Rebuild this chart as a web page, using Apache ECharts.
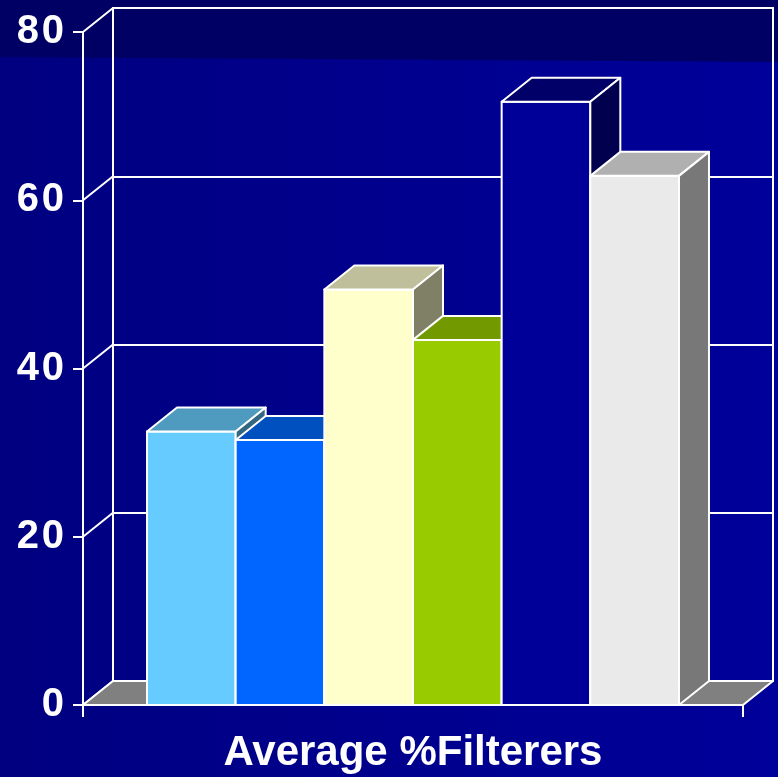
<!DOCTYPE html>
<html>
<head>
<meta charset="utf-8">
<style>
  html, body { margin: 0; padding: 0; background: #000088; }
  #main { width: 778px; height: 777px; }
</style>
<script src="https://cdn.jsdelivr.net/npm/echarts@6/dist/echarts.min.js"></script>
</head>
<body>
<div id="main"></div>
<script>
var categories = ["Average %Filterers"];
var barValues = [32.5, 31.5, 49.4, 43.4, 71.7, 62.9];
var yTicks = [0, 20, 40, 60, 80];

// face colours per bar: front, top, side
var barColors = ["#66CCFF", "#0066FF", "#FFFFCC", "#99CC00", "#000099", "#EAEAEA"];
var topColors = ["#4F9ABF", "#0050C0", "#BFBF9C", "#739900", "#000068", "#B0B0B0"];
var sideColors = ["#336680", "#003380", "#808066", "#4D6600", "#00004E", "#787878"];

var DX = 30, DY = 24; // depth offset of the fake 3d
var GROUP = 0.806; // share of the category band used by the bars
var FONT = "'Liberation Sans', Arial, sans-serif";

var chartDom = document.getElementById("main");
var myChart = echarts.init(chartDom);

var line = { stroke: "#fff", lineWidth: 2, lineJoin: "round" };

function digits(v) {
  var s = String(v);
  return s.split("").map(function (c, k) {
    return (k < s.length - 1 ? "{a|" : "{b|") + c + "}";
  }).join("");
}

var option = {
  animation: false,
  backgroundColor: {
    type: "linear", x: 0, y: 0, x2: 1, y2: 0,
    colorStops: [{ offset: 0, color: "#000080" }, { offset: 1, color: "#00009A" }]
  },
  graphic: [{
    type: "polygon",
    z: -1,
    silent: true,
    shape: { points: [[0, 0], [778, 0], [778, 62], [0, 57]] },
    style: { fill: "#000064" }
  }],
  grid: [
    { left: 83, right: 35, top: 32, bottom: 72 },
    { left: 113, right: 5, top: 8, bottom: 96, show: true, borderColor: "#fff", borderWidth: 2, backgroundColor: "transparent" }
  ],
  xAxis: [
    {
      type: "category",
      gridIndex: 0,
      data: categories,
      boundaryGap: true,
      axisLine: { show: true, lineStyle: { color: "#fff", width: 2 } },
      axisTick: { show: true, interval: 0, alignWithLabel: false, length: 12, lineStyle: { color: "#fff", width: 2 } },
      axisLabel: { color: "#fff", fontSize: 42, fontWeight: "bold", fontFamily: FONT, margin: 27 }
    },
    { type: "category", gridIndex: 1, data: categories, show: false }
  ],
  yAxis: [
    {
      type: "value",
      gridIndex: 0,
      min: 0, max: 80, interval: 20,
      axisLine: { show: true, lineStyle: { color: "#fff", width: 2 } },
      axisTick: { show: true, length: 10, lineStyle: { color: "#fff", width: 2 } },
      splitLine: { show: false },
      axisLabel: {
        margin: 19,
        formatter: digits,
        rich: {
          a: { width: 25, align: "left", color: "#fff", fontSize: 40, fontWeight: "bold", fontFamily: FONT },
          b: { color: "#fff", fontSize: 40, fontWeight: "bold", fontFamily: FONT }
        }
      }
    },
    {
      type: "value",
      gridIndex: 1,
      min: 0, max: 80, interval: 20,
      axisLine: { show: false },
      axisTick: { show: false },
      axisLabel: { show: false },
      splitLine: { lineStyle: { color: "#fff", width: 2 } }
    }
  ],
  series: [
    {
      // slanted lines of the left side wall
      type: "custom",
      name: "wall",
      silent: true,
      data: yTicks.map(function (v) { return [0, v]; }),
      renderItem: function (params, api) {
        var cs = params.coordSys;
        var y = api.coord([0, api.value(1)])[1];
        return { type: "line", shape: { x1: cs.x, y1: y, x2: cs.x + DX, y2: y - DY }, style: line };
      }
    },
    {
      // floor
      type: "custom",
      name: "floor",
      silent: true,
      data: [[0, 0]],
      renderItem: function (params, api) {
        var cs = params.coordSys;
        var y0 = api.coord([0, 0])[1];
        return {
          type: "polygon",
          shape: { points: [[cs.x, y0], [cs.x + DX, y0 - DY], [cs.x + cs.width + DX, y0 - DY], [cs.x + cs.width, y0]] },
          style: Object.assign({ fill: "#808080" }, line)
        };
      }
    },
    {
      type: "custom",
      name: "bars",
      silent: true,
      data: barValues.map(function (v, i) { return [0, v, i]; }),
      renderItem: function (params, api) {
        var i = api.value(2);
        var base = api.coord([0, 0]);
        var top = api.coord([0, api.value(1)]);
        var band = api.size([1, 0])[0];
        var w = band * GROUP / 6;
        var x0 = base[0] - band * GROUP / 2 + i * w, x1 = x0 + w;
        var yb = base[1], yt = top[1];
        return {
          type: "group",
          children: [
            { type: "rect", shape: { x: x0, y: yt, width: w, height: yb - yt }, style: Object.assign({ fill: barColors[i] }, line) },
            { type: "polygon", shape: { points: [[x0, yt], [x0 + DX, yt - DY], [x1 + DX, yt - DY], [x1, yt]] }, style: Object.assign({ fill: topColors[i] }, line) },
            { type: "polygon", shape: { points: [[x1, yt], [x1 + DX, yt - DY], [x1 + DX, yb - DY], [x1, yb]] }, style: Object.assign({ fill: sideColors[i] }, line) }
          ]
        };
      }
    }
  ]
};

option && myChart.setOption(option);
</script>
</body>
</html>
